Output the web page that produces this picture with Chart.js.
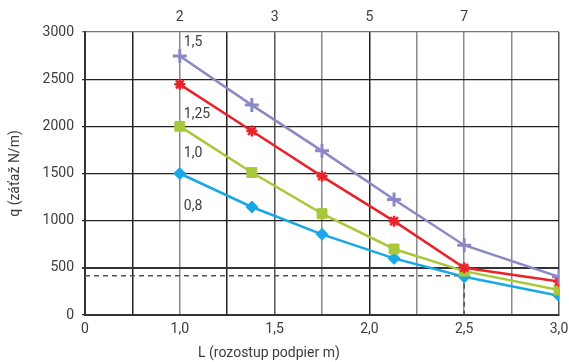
<!DOCTYPE html>
<html>
<head>
<meta charset="utf-8">
<script src="https://cdn.jsdelivr.net/npm/chart.js@4/dist/chart.umd.min.js"></script>
<style>
  html, body { margin: 0; padding: 0; background: #fff; }
  #wrap { width: 569px; height: 362px; position: relative; }
</style>
</head>
<body>
<div id="wrap"><canvas id="c"></canvas></div>
<script>
// ---- data ----
const xValues = [1.0, 1.38, 1.75, 2.13, 2.5, 3.0];          // L (m)
const seriesNames = ['1,5', '1,25', '1,0', '0,8'];
const q_1_5  = [2745, 2225, 1740, 1225, 740, 405];
const q_1_25 = [2445, 1950, 1470, 995, 500, 355];
const q_1_0  = [2000, 1510, 1075, 700, 465, 265];
const q_0_8  = [1500, 1145, 855, 600, 405, 205];
const refLineX = [0.5, 2.5, 2.5];
const refLineY = [415, 415, 0];
const xTickValues = [0.5, 0.75, 1.0, 1.25, 1.5, 1.75, 2.0, 2.25, 2.5, 2.75, 3.0];
const xTickLabels = ['0', '', '1,0', '', '1,5', '', '2,0', '', '2,5', '', '3,0'];
const topTickValues = [1.0, 1.5, 2.0, 2.5];
const topTickLabels = ['2', '3', '5', '7'];
const yTicks = [0, 500, 1000, 1500, 2000, 2500, 3000];

const FONT = 'Roboto, "Liberation Sans", Arial, sans-serif';
const TXT = '#3c3c3c';

const toPts = (ys) => xValues.map((x, i) => ({ x: x, y: ys[i] }));

const styles = [
  { color: '#8c88c6', pointStyle: 'cross', radius: 7, bw: 3 },
  { color: '#e8232b', pointStyle: 'star',  radius: 5.5, bw: 2.5 },
  { color: '#a8c83a', pointStyle: 'rect',  radius: 7, bw: 1 },
  { color: '#1aa7e6', pointStyle: 'rectRot', radius: 6, bw: 1 }
];
const seriesData = [q_1_5, q_1_25, q_1_0, q_0_8];

const datasets = [{
  label: 'ref',
  data: refLineX.map((x, i) => ({ x: x, y: refLineY[i] })),
  borderColor: '#555',
  borderWidth: 1.5,
  borderDash: [5, 4],
  pointRadius: 0,
  fill: false,
  order: 10
}];
seriesData.forEach((d, i) => {
  const s = styles[i];
  datasets.push({
    label: seriesNames[i],
    data: toPts(d),
    borderColor: s.color,
    backgroundColor: s.color,
    borderWidth: 2.5,
    pointStyle: s.pointStyle,
    pointRadius: s.radius,
    pointBorderWidth: s.bw,
    pointBorderColor: s.color,
    pointBackgroundColor: s.color,
    fill: false,
    tension: 0,
    order: i
  });
});

// label offsets (px) relative to the first point of each series
const labelOffsets = [-14, 30, 27, 33];

const annotate = {
  id: 'annotate',
  afterDatasetsDraw(chart) {
    const { ctx, scales } = chart;
    ctx.save();
    ctx.font = '14px ' + FONT;
    ctx.fillStyle = TXT;
    ctx.textBaseline = 'middle';
    ctx.textAlign = 'left';
    seriesData.forEach((d, i) => {
      const px = scales.x.getPixelForValue(xValues[0]) + 4;
      const py = scales.y.getPixelForValue(d[0]) + labelOffsets[i];
      ctx.fillText(seriesNames[i], px, py);
    });
    // x-axis title
    ctx.textAlign = 'center';
    ctx.fillText('L (rozostup podpier m)', scales.x.getPixelForValue(1.47), 353);
    ctx.restore();
  }
};

function noSidePad(scale) { scale.paddingLeft = 0; scale.paddingRight = 0; }

new Chart(document.getElementById('c'), {
  type: 'line',
  data: { datasets },
  options: {
    responsive: true,
    maintainAspectRatio: false,
    animation: false,
    layout: { padding: { left: 0, right: 9, top: 0, bottom: 0 } },
    plugins: { legend: { display: false }, tooltip: { enabled: false } },
    scales: {
      x: {
        type: 'linear',
        position: 'bottom',
        min: 0.5, max: 3.0,
        afterBuildTicks(scale) { scale.ticks = xTickValues.map(v => ({ value: v })); },
        afterFit(scale) { scale.height = 47; noSidePad(scale); },
        ticks: {
          font: { size: 14, family: FONT },
          color: TXT,
          padding: 6,
          maxRotation: 0,
          autoSkip: false,
          callback(v) { const i = xTickValues.indexOf(v); return i >= 0 ? xTickLabels[i] : ''; }
        },
        grid: {
          drawTicks: false,
          color(ctx) {
            const v = ctx.tick ? ctx.tick.value : 0;
            if ([1.0, 1.75, 2.25, 2.5, 2.75].includes(v)) return '#8a8a8a';
            if ([1.5, 3.0].includes(v)) return '#555';
            return '#222';
          },
          lineWidth: 1.5
        },
        border: { color: '#333', width: 2 }
      },
      xTop: {
        type: 'linear',
        position: 'top',
        min: 0.5, max: 3.0,
        afterBuildTicks(scale) { scale.ticks = topTickValues.map(v => ({ value: v })); },
        afterFit(scale) { scale.height = 32; noSidePad(scale); },
        ticks: {
          font: { size: 14, family: FONT },
          color: TXT,
          padding: 6,
          maxRotation: 0,
          autoSkip: false,
          callback(v) { const i = topTickValues.indexOf(v); return i >= 0 ? topTickLabels[i] : ''; }
        },
        grid: { display: false, drawTicks: false },
        border: { display: false }
      },
      y: {
        min: 0, max: 3000,
        afterBuildTicks(scale) { scale.ticks = yTicks.map(v => ({ value: v })); },
        afterFit(scale) { scale.width = 85; scale.paddingTop = 0; scale.paddingBottom = 0; },
        ticks: {
          font: { size: 14, family: FONT },
          color: TXT,
          padding: 8,
          callback(v) { return String(v); }
        },
        grid: {
          tickLength: 3,
          color(ctx) {
            const v = ctx.tick ? ctx.tick.value : 0;
            if (v === 3000) return '#777';
            if (v === 500) return '#333';
            return '#222';
          },
          lineWidth(ctx) {
            const v = ctx.tick ? ctx.tick.value : 0;
            return v === 500 ? 2 : 1.3;
          }
        },
        border: { color: '#333', width: 2 },
        title: {
          display: true,
          text: 'q (záťaž N/m)',
          font: { size: 14, family: FONT },
          color: TXT,
          padding: { top: 7, bottom: 0 }
        }
      }
    }
  },
  plugins: [annotate]
});
</script>
</body>
</html>
